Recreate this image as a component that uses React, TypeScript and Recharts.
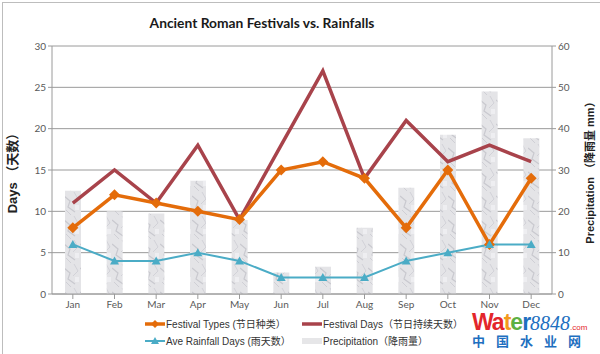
import React from 'react';
import {
  ComposedChart,
  Bar,
  Line,
  XAxis,
  YAxis,
  CartesianGrid,
} from 'recharts';

const months = ['Jan', 'Feb', 'Mar', 'Apr', 'May', 'Jun', 'Jul', 'Aug', 'Sep', 'Oct', 'Nov', 'Dec'];
const festivalTypes = [8, 12, 11, 10, 9, 15, 16, 14, 8, 15, 6, 14];
const festivalDays = [11, 15, 11, 18, 9, 18, 27, 14, 21, 16, 18, 16];
const rainfallDays = [6, 4, 4, 5, 4, 2, 2, 2, 4, 5, 6, 6];
const precipitation = [25, 20, 19.5, 27.4, 17.9, 5.2, 6.6, 16, 25.7, 38.5, 49, 37.7];
const leftTicks = [0, 5, 10, 15, 20, 25, 30];
const rightTicks = [0, 10, 20, 30, 40, 50, 60];

const data = months.map((m, i) => ({
  month: m,
  types: festivalTypes[i],
  days: festivalDays[i],
  rain: rainfallDays[i],
  precip: precipitation[i],
}));

const ORANGE = '#E46C0A';
const RED = '#A8434B';
const BLUE = '#4BACC6';
const tickStyle = { fill: '#595959', fontSize: 10, fontFamily: 'Lato, "Liberation Sans", sans-serif' };
const cjk = '"Liberation Sans", Arial, "Noto Sans CJK SC", sans-serif';

const Diamond = (props: any) => {
  const { cx, cy, index } = props;
  if (cx == null || cy == null) return null;
  const r = 5.5;
  return (
    <polygon
      key={'d' + index}
      points={`${cx},${cy - r} ${cx + r},${cy} ${cx},${cy + r} ${cx - r},${cy}`}
      fill={ORANGE}
    />
  );
};

const Triangle = (props: any) => {
  const { cx, cy, index } = props;
  if (cx == null || cy == null) return null;
  const r = 4.5;
  return (
    <polygon
      key={'t' + index}
      points={`${cx},${cy - r} ${cx + r},${cy + r * 0.8} ${cx - r},${cy + r * 0.8}`}
      fill={BLUE}
    />
  );
};

const legendItems = [
  { label: 'Festival Types (节日种类）', color: ORANGE, kind: 'diamond', x: 145, y: 324 },
  { label: 'Festival Days（节日持续天数）', color: RED, kind: 'line', x: 302, y: 324 },
  { label: 'Ave Rainfall Days (雨天数）', color: BLUE, kind: 'triangle', x: 145, y: 341 },
  { label: 'Precipitation（降雨量）', color: '#e6e6e8', kind: 'bar', x: 302, y: 341 },
];

const ChartLegend = () => (
  <svg width={600} height={354} style={{ position: 'absolute', left: 0, top: 0, pointerEvents: 'none' }}>
    {legendItems.map((it) => (
      <g key={it.label}>
        {it.kind === 'bar' ? (
          <rect x={it.x} y={it.y - 3} width={20} height={6} fill={it.color} />
        ) : (
          <line x1={it.x} x2={it.x + 20} y1={it.y} y2={it.y} stroke={it.color} strokeWidth={it.kind === 'triangle' ? 2 : 3.5} />
        )}
        {it.kind === 'diamond' && (
          <polygon points={`${it.x + 10},${it.y - 4} ${it.x + 14},${it.y} ${it.x + 10},${it.y + 4} ${it.x + 6},${it.y}`} fill={ORANGE} />
        )}
        {it.kind === 'triangle' && (
          <polygon points={`${it.x + 10},${it.y - 4} ${it.x + 14},${it.y + 3} ${it.x + 6},${it.y + 3}`} fill={BLUE} />
        )}
        <text x={it.x + 21} y={it.y + 4} fontSize={10} fill="#333" fontFamily={cjk}>
          {it.label}
        </text>
      </g>
    ))}
    {/* watermark */}
    <text x={472} y={330} fontFamily='"Liberation Sans", sans-serif' fontWeight={700} fontSize={23} letterSpacing={-1}>
      <tspan fill="#E3262B">Wa</tspan>
      <tspan fill="#F39A1E">t</tspan>
      <tspan fill="#5DB043">e</tspan>
      <tspan fill="#1E6FC0">r</tspan>
      <tspan fill="#1E6FC0" fontFamily='"Liberation Serif", serif' fontStyle="italic" fontWeight={400} fontSize={20} letterSpacing={0}>8848</tspan>
      <tspan fill="#E3262B" fontSize={8} fontWeight={400} letterSpacing={0}>.com</tspan>
    </text>
    <text x={472} y={346} fontFamily='"Noto Sans CJK SC", sans-serif' fontWeight={700} fontSize={13} letterSpacing={11} fill="#1E6FC0">
      中国水业网
    </text>
  </svg>
);

export default function App() {
  return (
    <div style={{ position: 'fixed', left: 0, top: 0, width: 600, height: 354, background: '#fff', overflow: 'hidden' }}>
      <div style={{ position: 'absolute', left: 2, top: 2, width: 620, height: 400, border: '1px solid #bdbdbd' }} />
      <div
        style={{
          position: 'absolute',
          left: 0,
          width: 524,
          top: 14,
          textAlign: 'center',
          fontFamily: 'Lato, "Open Sans", sans-serif',
          fontWeight: 700,
          fontSize: 13.8,
          color: '#1a1a1a',
        }}
      >
        Ancient Roman Festivals vs. Rainfalls
      </div>
      <div style={{ position: 'absolute', left: 0, top: 0 }}>
        <ComposedChart width={600} height={354} data={data} margin={{ top: 46, right: 0, bottom: 40, left: 0 }}>
          <defs>
            <pattern id="marble" width="16" height="24" patternUnits="userSpaceOnUse">
              <rect width="16" height="24" fill="#e4e4e7" />
              <path d="M0 4 L6 9 L4 15 L11 20" stroke="#c9c9cf" strokeWidth="1.2" fill="none" />
              <path d="M10 0 L14 7 L9 12" stroke="#d2d2d8" strokeWidth="1" fill="none" />
              <path d="M2 18 L7 23" stroke="#cfcfd5" strokeWidth="1" fill="none" />
              <rect x="11" y="13" width="4" height="5" fill="#eeeef1" />
            </pattern>
          </defs>
          <CartesianGrid vertical={false} stroke="#9a9a9a" strokeWidth={1} yAxisId="left" />
          <XAxis
            dataKey="month"
            tick={tickStyle}
            tickLine={{ stroke: '#9a9a9a' }}
            axisLine={{ stroke: '#9a9a9a' }}
            height={20}
            interval={0}
            tickSize={5}
          />
          <YAxis
            yAxisId="left"
            domain={[0, 30]}
            ticks={leftTicks}
            width={52}
            tick={tickStyle}
            tickLine={{ stroke: '#9a9a9a' }}
            axisLine={{ stroke: '#9a9a9a' }}
            tickSize={4}
            label={{
              value: 'Days （天数）',
              angle: -90,
              position: 'insideLeft',
              offset: 12,
              style: { fontSize: 13, fontWeight: 700, fill: '#222', fontFamily: cjk, textAnchor: 'middle' },
            }}
          />
          <YAxis
            yAxisId="right"
            orientation="right"
            domain={[0, 60]}
            ticks={rightTicks}
            width={48}
            tick={tickStyle}
            tickLine={{ stroke: '#9a9a9a' }}
            axisLine={{ stroke: '#9a9a9a' }}
            tickSize={4}
            label={{
              value: 'Precipitation （降雨量 mm）',
              angle: -90,
              position: 'insideRight',
              offset: 10,
              style: { fontSize: 11, fontWeight: 700, fill: '#222', fontFamily: cjk, textAnchor: 'middle' },
            }}
          />
          <Bar yAxisId="right" dataKey="precip" barSize={16} fill="url(#marble)" isAnimationActive={false} />
          <Line yAxisId="left" dataKey="days" stroke={RED} strokeWidth={3.5} dot={false} isAnimationActive={false} />
          <Line yAxisId="left" dataKey="types" stroke={ORANGE} strokeWidth={3.5} dot={Diamond} isAnimationActive={false} />
          <Line yAxisId="left" dataKey="rain" stroke={BLUE} strokeWidth={2} dot={Triangle} isAnimationActive={false} />
        </ComposedChart>
      </div>
      <ChartLegend />
    </div>
  );
}
